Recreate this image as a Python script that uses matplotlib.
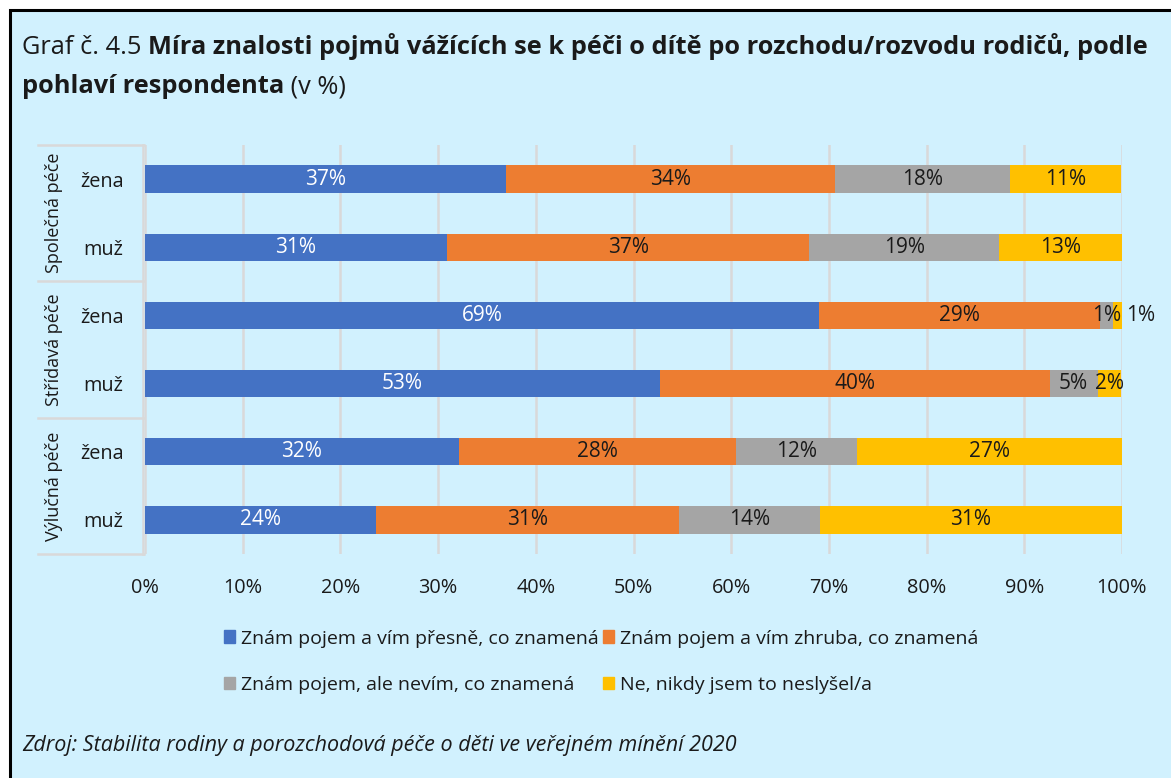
import matplotlib
matplotlib.use("Agg")
import matplotlib.pyplot as plt
from matplotlib.patches import Rectangle
from matplotlib.lines import Line2D
import numpy as np

plt.rcParams['font.family'] = ['Open Sans', 'DejaVu Sans']

# data (top to bottom)
groups = ["Společná péče", "Střídavá péče", "Výlučná péče"]
rows = ["žena", "muž", "žena", "muž", "žena", "muž"]
series = ["Znám pojem a vím přesně, co znamená",
          "Znám pojem a vím zhruba, co znamená",
          "Znám pojem, ale nevím, co znamená",
          "Ne, nikdy jsem to neslyšel/a"]
presne = [36.9, 30.9, 69.0, 52.7, 32.1, 23.6]
zhruba = [33.7, 37.1, 28.7, 39.9, 28.4, 31.1]
nevim = [17.9, 19.4, 1.4, 4.9, 12.4, 14.4]
neslysel = [11.4, 12.6, 0.9, 2.4, 27.1, 30.9]
values = [presne, zhruba, nevim, neslysel]
colors = ["#4472c4", "#ed7d31", "#a5a5a5", "#ffc000"]
text_colors = ["white", "#1a1a1a", "#1a1a1a", "#1a1a1a"]
bg = "#d1f1fe"
fs = 14.3

W, H = 1171, 778
fig = plt.figure(figsize=(W / 100, H / 100), dpi=100)
fig.patch.set_facecolor("white")
fig.patches.append(Rectangle((10 / W, -0.05), 1.1, 1 - 10 / H + 0.05, transform=fig.transFigure,
                             facecolor=bg, edgecolor="black", linewidth=2.2, zorder=-10))

ax = fig.add_axes([145 / W, 1 - 554 / H, (1122 - 145) / W, (554 - 145) / H])
ax.set_facecolor("none")
y = np.arange(len(rows))
left = np.zeros(len(rows))
for vals, col, tc in zip(values, colors, text_colors):
    vals = np.array(vals)
    bars = ax.barh(y, vals, left=left, height=0.4, color=col, zorder=3)
    for i, (b, v) in enumerate(zip(bars, vals)):
        cx = left[i] + v / 2
        ha = "center"
        if v < 1.2:
            cx = left[i] + v + 0.4
            ha = "left"
        ax.text(cx, i, f"{round(v)}%", ha=ha, va="center", fontsize=15,
                color=tc, zorder=4)
    left = left + vals

ax.set_xlim(0, 100)
ax.set_ylim(len(rows) - 0.5, -0.5)
ax.set_xticks(np.arange(0, 101, 10))
ax.set_xticklabels([f"{t}%" for t in range(0, 101, 10)], fontsize=fs, color="#1a1a1a")
ax.set_yticks(y)
ax.set_yticklabels(rows, fontsize=fs, color="#1a1a1a")
ax.tick_params(axis="x", length=0, pad=17)
ax.tick_params(axis="y", length=0, pad=15.5)
ax.grid(axis="x", color="#d9d9d9", linewidth=1.8, zorder=0)
for s in ax.spines.values():
    s.set_visible(False)

# group labels and separators
sep_col = "#d9d9d9"
ys = [145, 281, 418, 554]
for yy in ys:
    fig.add_artist(Line2D([38 / W, 144 / W], [1 - yy / H] * 2, color=sep_col, linewidth=1.8))
fig.add_artist(Line2D([143 / W, 143 / W], [1 - 145 / H, 1 - 554 / H], color=sep_col, linewidth=1.8))
for k, g in enumerate(groups):
    yc = (ys[k] + ys[k + 1]) / 2
    fig.text(54 / W, 1 - yc / H, g, rotation=90, ha="center", va="center",
             fontsize=13, color="#1a1a1a")

# title with mixed weights
fig.canvas.draw()
r = fig.canvas.get_renderer()
def put(parts, x0, yy):
    x = x0
    for txt, w in parts:
        t = fig.text(x / W, 1 - yy / H, txt, fontsize=18.3, fontweight=w, va="baseline", ha="left",
                     color="#1a1a1a")
        bb = t.get_window_extent(renderer=r)
        x += bb.width
put([("Graf č. 4.5 ", "normal"),
     ("Míra znalosti pojmů vážících se k péči o dítě po rozchodu/rozvodu rodičů, podle", "bold")], 22, 54)
put([("pohlaví respondenta", "bold"), (" (v %)", "normal")], 22, 93)

# legend
handles = [Rectangle((0, 0), 1, 1, color=c) for c in colors]
order = [0, 2, 1, 3]
fig.legend([handles[i] for i in order], [series[i] for i in order], ncol=2,
           loc="upper left", bbox_to_anchor=(206 / W, 1 - 612 / H), frameon=False,
           fontsize=14, handlelength=0.6, handleheight=0.6, handletextpad=0.3,
           columnspacing=0.2, labelspacing=1.45, labelcolor="#1a1a1a")

fig.text(22 / W, 1 - 746 / H, "Zdroj: Stabilita rodiny a porozchodová péče o děti ve veřejném mínění 2020",
         fontsize=15.5, style="italic", va="center", ha="left", color="#1a1a1a")

fig.savefig("out.png", dpi=100, facecolor=fig.get_facecolor())
